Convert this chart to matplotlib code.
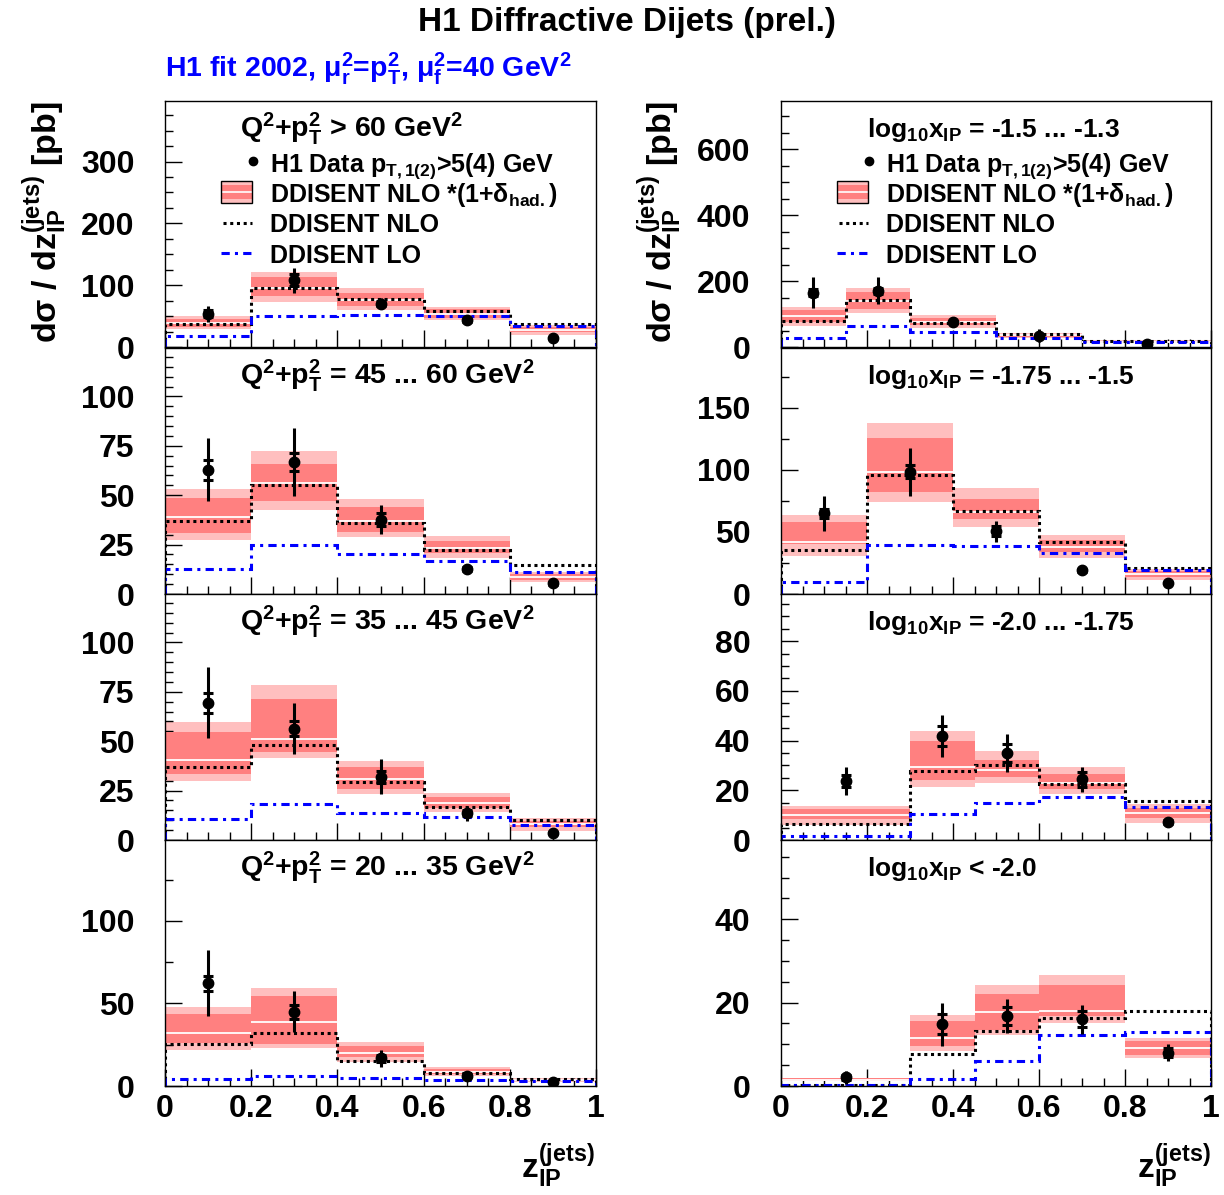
import numpy as np
import matplotlib
matplotlib.use("Agg")
import matplotlib.pyplot as plt
from matplotlib.patches import Rectangle
from matplotlib.ticker import MultipleLocator, FuncFormatter

plt.rcParams['font.family'] = ['Liberation Sans', 'DejaVu Sans']
plt.rcParams['font.weight'] = 'bold'
plt.rcParams['mathtext.fontset'] = 'custom'
plt.rcParams['mathtext.rm'] = 'Liberation Sans:bold'
plt.rcParams['mathtext.it'] = 'Liberation Sans:bold'
plt.rcParams['mathtext.bf'] = 'Liberation Sans:bold'
plt.rcParams['mathtext.sf'] = 'Liberation Sans:bold'

# ---------------- data ----------------
edges_std = [0.0, 0.2, 0.4, 0.6, 0.8, 1.0]
edges_r1 = [0.0, 0.15, 0.3, 0.5, 0.7, 1.0]
edges_r34 = [0.0, 0.3, 0.45, 0.6, 0.8, 1.0]

# Left column: Q^2+pT^2 bins
L1_data = [54, 108, 70, 43, 14]
L1_stat = [6, 10, 4, 2, 1]
L1_tot = [13, 20, 9, 3, 2]
L1_cen = [39, 95, 76, 53, 27]
L1_in_lo = [33, 83, 66, 47, 24]
L1_in_hi = [45, 113, 88, 61, 32]
L1_out_lo = [29, 73, 60, 43, 20]
L1_out_hi = [50, 122, 95, 65, 35]
L1_nlo = [37, 96, 77, 59, 37]
L1_lo = [17, 50, 52, 50, 34]

L2_data = [62.9, 66.8, 37.6, 12.7, 5.4]
L2_stat = [5, 4.8, 3.4, 1.2, 0.6]
L2_tot = [16, 17, 7.3, 2, 1]
L2_cen = [39, 56, 37, 23.5, 8.5]
L2_in_lo = [31, 47, 31.3, 20.6, 7.1]
L2_in_hi = [48.4, 65.8, 44, 27, 10]
L2_out_lo = [27.4, 42.3, 28.6, 18.1, 6.2]
L2_out_hi = [53.1, 72.2, 48, 29.4, 11.3]
L2_nlo = [36.7, 55, 35.9, 22.3, 14.7]
L2_lo = [12.5, 24.9, 20.1, 16.9, 11.3]

L3_data = [69.4, 56.3, 32.1, 13.5, 3.7]
L3_stat = [4.9, 3.8, 3, 1.5, 0.5]
L3_tot = [18, 12.9, 8.7, 3.7, 1]
L3_cen = [40.3, 51, 31, 18.5, 8]
L3_in_lo = [33.5, 44.3, 25.7, 16.1, 6.4]
L3_in_hi = [54.5, 71.6, 36.7, 22, 9.6]
L3_out_lo = [30.1, 41.5, 23.2, 14.4, 4.6]
L3_out_hi = [59.7, 78.5, 40.1, 23.7, 11]
L3_nlo = [36.7, 47.9, 29.6, 16.6, 10.2]
L3_lo = [10.7, 18.3, 13.5, 11.8, 7.6]

L4_data = [62.2, 45, 16.8, 6.3, 2.6]
L4_stat = [4.5, 4.2, 2, 0.8, 0.4]
L4_tot = [20, 12.5, 5, 1.5, 0.8]
L4_cen = [31.9, 39, 20, 8.5, 3.5]
L4_in_lo = [25.9, 25.5, 17.8, 7.1, 2.9]
L4_in_hi = [43.6, 54.5, 24.4, 10.3, 4.2]
L4_out_lo = [21.8, 22.8, 14.7, 6.1, 2.6]
L4_out_hi = [48, 59.6, 26.9, 11.7, 4.6]
L4_nlo = [25.5, 32.3, 15.4, 8.1, 4.0]
L4_lo = [4.0, 6.3, 4.6, 3.6, 3.2]

# Right column: log10 x_IP bins
R1_data = [165, 170, 76, 34, 9]
R1_stat = [10, 10, 4, 3, 1]
R1_tot = [48, 41, 8, 20, 4]
R1_cen = [93, 140, 77, 35, 16]
R1_in_lo = [76, 114.5, 66, 30, 12]
R1_in_hi = [112, 168, 89, 39, 19]
R1_out_lo = [64, 104.5, 59, 27, 11]
R1_out_hi = [122.7, 180, 96, 42, 21]
R1_nlo = [79, 141.7, 74, 38, 17]
R1_lo = [27, 64, 44, 26, 14]

R2_data = [64.8, 98.4, 50.6, 19.1, 9.2]
R2_stat = [3.8, 5.4, 4, 1.2, 0.6]
R2_tot = [13.7, 19.3, 8.4, 2, 1]
R2_cen = [41.5, 98.4, 65.6, 38, 16]
R2_in_lo = [40.6, 81.8, 60, 33.9, 13.5]
R2_in_hi = [58, 125.3, 76.4, 43.3, 18.5]
R2_out_lo = [30.6, 74.2, 54, 29.3, 11.6]
R2_out_hi = [63.5, 138, 85, 47.3, 20.5]
R2_nlo = [35.2, 95.7, 67, 41.9, 21.3]
R2_lo = [9.7, 39.3, 38.7, 33.4, 19.1]

R3_data = [23.6, 41.9, 35, 24.4, 7.2]
R3_stat = [2.4, 3.9, 3.6, 2.9, 0.8]
R3_tot = [5.6, 8.4, 7.8, 5, 1.5]
R3_cen = [10, 29.4, 28, 23, 11]
R3_in_lo = [8.3, 24, 25.4, 20.7, 9]
R3_in_hi = [12.3, 39.8, 32.1, 26.5, 13]
R3_out_lo = [6.2, 21.3, 22.9, 18.7, 6.8]
R3_out_hi = [13.5, 43.8, 35.9, 29.2, 14.6]
R3_nlo = [6.6, 27.7, 30.1, 22.7, 15.7]
R3_lo = [1.6, 10.6, 15, 17.3, 13.3]

R4_data = [2.1, 14.8, 16.8, 16, 8]
R4_stat = [0.6, 2.4, 2.2, 1.9, 1.0]
R4_tot = [1.6, 5.1, 4.1, 3.5, 2]
R4_cen = [1.5, 11.5, 17.8, 18.1, 9.1]
R4_in_lo = [1.2, 9.5, 13.5, 16.7, 7.5]
R4_in_hi = [1.8, 15.5, 22.1, 24.2, 10.8]
R4_out_lo = [1.1, 8.3, 12.3, 15.1, 6.7]
R4_out_hi = [1.9, 17, 24.2, 26.6, 11.6]
R4_nlo = [0.3, 7.7, 13.2, 16.3, 18]
R4_lo = [0.3, 1.7, 6.1, 12.3, 12.9]

left_titles = [r'Q$^{2}$+p$_{T}^{2}$ > 60 GeV$^{2}$',
               r'Q$^{2}$+p$_{T}^{2}$ = 45 ... 60 GeV$^{2}$',
               r'Q$^{2}$+p$_{T}^{2}$ = 35 ... 45 GeV$^{2}$',
               r'Q$^{2}$+p$_{T}^{2}$ = 20 ... 35 GeV$^{2}$']
right_titles = [r'log$_{10}$x$_{IP}$ = -1.5 ... -1.3',
                r'log$_{10}$x$_{IP}$ = -1.75 ... -1.5',
                r'log$_{10}$x$_{IP}$ = -2.0 ... -1.75',
                r'log$_{10}$x$_{IP}$ < -2.0']

legend_labels = [r'H1 Data p$_{T,1(2)}$>5(4) GeV',
                 r'DDISENT NLO *(1+δ$_{had.}$)',
                 'DDISENT NLO',
                 'DDISENT LO']

# ---------------- style ----------------
LIGHT = '#ffbfbf'
DARK = '#ff8080'
BLUE = '#0000ff'
NLO_LS = (0, (1, 1.2))
LO_LS = (0, (2.7, 1.7, 1.0, 1.7))

panels = [
    dict(col=0, row=0, edges=edges_std, data=L1_data, stat=L1_stat, tot=L1_tot, cen=L1_cen,
         in_lo=L1_in_lo, in_hi=L1_in_hi, out_lo=L1_out_lo, out_hi=L1_out_hi, nlo=L1_nlo, lo=L1_lo,
         ymax=398, major=100, minor=25, title=left_titles[0]),
    dict(col=0, row=1, edges=edges_std, data=L2_data, stat=L2_stat, tot=L2_tot, cen=L2_cen,
         in_lo=L2_in_lo, in_hi=L2_in_hi, out_lo=L2_out_lo, out_hi=L2_out_hi, nlo=L2_nlo, lo=L2_lo,
         ymax=124.5, major=25, minor=5, title=left_titles[1]),
    dict(col=0, row=2, edges=edges_std, data=L3_data, stat=L3_stat, tot=L3_tot, cen=L3_cen,
         in_lo=L3_in_lo, in_hi=L3_in_hi, out_lo=L3_out_lo, out_hi=L3_out_hi, nlo=L3_nlo, lo=L3_lo,
         ymax=124.5, major=25, minor=5, title=left_titles[2]),
    dict(col=0, row=3, edges=edges_std, data=L4_data, stat=L4_stat, tot=L4_tot, cen=L4_cen,
         in_lo=L4_in_lo, in_hi=L4_in_hi, out_lo=L4_out_lo, out_hi=L4_out_hi, nlo=L4_nlo, lo=L4_lo,
         ymax=149, major=50, minor=25, title=left_titles[3]),
    dict(col=1, row=0, edges=edges_r1, data=R1_data, stat=R1_stat, tot=R1_tot, cen=R1_cen,
         in_lo=R1_in_lo, in_hi=R1_in_hi, out_lo=R1_out_lo, out_hi=R1_out_hi, nlo=R1_nlo, lo=R1_lo,
         ymax=746, major=200, minor=50, title=right_titles[0]),
    dict(col=1, row=1, edges=edges_std, data=R2_data, stat=R2_stat, tot=R2_tot, cen=R2_cen,
         in_lo=R2_in_lo, in_hi=R2_in_hi, out_lo=R2_out_lo, out_hi=R2_out_hi, nlo=R2_nlo, lo=R2_lo,
         ymax=198, major=50, minor=25, title=right_titles[1]),
    dict(col=1, row=2, edges=edges_r34, data=R3_data, stat=R3_stat, tot=R3_tot, cen=R3_cen,
         in_lo=R3_in_lo, in_hi=R3_in_hi, out_lo=R3_out_lo, out_hi=R3_out_hi, nlo=R3_nlo, lo=R3_lo,
         ymax=99, major=20, minor=5, title=right_titles[2]),
    dict(col=1, row=3, edges=edges_r34, data=R4_data, stat=R4_stat, tot=R4_tot, cen=R4_cen,
         in_lo=R4_in_lo, in_hi=R4_in_hi, out_lo=R4_out_lo, out_hi=R4_out_hi, nlo=R4_nlo, lo=R4_lo,
         ymax=59, major=20, minor=5, title=right_titles[3]),
]

W, H = 1224, 1195
fig = plt.figure(figsize=(W / 100, H / 100), dpi=100)

col_x = [165, 781]
col_w = [431, 430]
row_top = [101, 348, 594, 840]
row_h = 246


def draw_legend(ax):
    icon_y = [0.756, 0.630, 0.504, 0.382]
    text_y = [0.711, 0.589, 0.467, 0.341]
    x0, x1 = 0.130, 0.202
    tr = ax.transAxes
    ax.plot([0.204], [icon_y[0]], 'o', color='black', ms=6, transform=tr, clip_on=False, zorder=6)
    bh = 0.089
    ax.add_patch(Rectangle((x0, icon_y[1] - bh / 2), x1 - x0, bh, transform=tr,
                           facecolor=LIGHT, edgecolor='none', zorder=5))
    ax.add_patch(Rectangle((x0, icon_y[1] - bh * 0.3), x1 - x0, bh * 0.6, transform=tr,
                           facecolor=DARK, edgecolor='none', zorder=5))
    ax.plot([x0, x1], [icon_y[1], icon_y[1]], color='white', lw=1.2, transform=tr, zorder=5)
    ax.add_patch(Rectangle((x0, icon_y[1] - bh / 2), x1 - x0, bh, transform=tr,
                           facecolor='none', edgecolor='black', lw=1.0, zorder=6))
    ax.plot([x0 + 0.005, x1], [icon_y[2]] * 2, color='black', lw=2.2, ls=NLO_LS, transform=tr, zorder=5)
    ax.plot([x0, x1], [icon_y[3]] * 2, color=BLUE, lw=2.2, ls=LO_LS, transform=tr, zorder=5)
    for ty, lab in zip(text_y, legend_labels):
        ax.text(0.244, ty, lab, transform=tr, fontsize=18, fontweight='bold', va='baseline', ha='left', zorder=6)


for p in panels:
    c, r = p['col'], p['row']
    left = col_x[c] / W
    bottom = 1 - (row_top[r] + row_h) / H
    ax = fig.add_axes([left, bottom, col_w[c] / W, row_h / H])
    e = np.array(p['edges'])
    widths = np.diff(e)
    centers = 0.5 * (e[:-1] + e[1:])
    out_lo, out_hi = np.array(p['out_lo']), np.array(p['out_hi'])
    in_lo, in_hi = np.array(p['in_lo']), np.array(p['in_hi'])
    ax.bar(e[:-1], out_hi - out_lo, bottom=out_lo, width=widths, align='edge',
           color=LIGHT, edgecolor='none', zorder=1)
    ax.bar(e[:-1], in_hi - in_lo, bottom=in_lo, width=widths, align='edge',
           color=DARK, edgecolor='none', zorder=2)
    ax.hlines(p['cen'], e[:-1], e[1:], colors='white', lw=1.3, zorder=2.5)
    ax.stairs(p['nlo'], e, baseline=0, color='black', lw=2.2, ls=NLO_LS, zorder=3)
    ax.stairs(p['lo'], e, baseline=0, color=BLUE, lw=2.2, ls=LO_LS, zorder=3)
    ax.errorbar(centers, p['data'], yerr=p['tot'], fmt='o', color='black', ms=7.5,
                elinewidth=2.2, capsize=0, zorder=4)
    ax.errorbar(centers, p['data'], yerr=p['stat'], fmt='none', ecolor='black',
                elinewidth=2.2, capsize=3.5, capthick=2.2, zorder=4)

    ax.set_xlim(0, 1)
    ax.set_ylim(0, p['ymax'])
    ax.xaxis.set_major_locator(MultipleLocator(0.2))
    ax.xaxis.set_minor_locator(MultipleLocator(0.05))
    ax.yaxis.set_major_locator(MultipleLocator(p['major']))
    ax.yaxis.set_minor_locator(MultipleLocator(p['minor']))
    ax.tick_params(which='both', direction='in', top=False, right=False, width=1.0)
    ax.tick_params(which='major', length=12.5)
    ax.tick_params(which='minor', length=6)
    ax.tick_params(axis='y', which='major', labelsize=23, pad=22)
    ax.tick_params(axis='x', which='major', labelsize=23, pad=6)
    ax.yaxis.set_major_formatter(FuncFormatter(lambda v, pos: '%g' % v))
    if r == 3:
        ax.xaxis.set_major_formatter(FuncFormatter(lambda v, pos: '%g' % v))
    else:
        ax.set_xticklabels([])
    for lab in ax.get_xticklabels() + ax.get_yticklabels():
        lab.set_fontweight('bold')
    for s in ax.spines.values():
        s.set_linewidth(1.0)
        s.set_zorder(10)
    if c == 0:
        ax.text(0.174, 0.855, p['title'], transform=ax.transAxes, fontsize=20.5, fontweight='bold',
                ha='left', va='baseline', zorder=6)
    else:
        ax.text(0.2, 0.855, p['title'], transform=ax.transAxes, fontsize=19, fontweight='bold',
                ha='left', va='baseline', zorder=6)
    if r == 0:
        draw_legend(ax)

# titles
fig.text(0.512, 1 - 22 / H, 'H1 Diffractive Dijets (prel.)', fontsize=24, fontweight='bold',
         ha='center', va='center')
fig.text(165 / W, 1 - 77 / H, r'H1 fit 2002, μ$_{r}^{2}$=p$_{T}^{2}$, μ$_{f}^{2}$=40 GeV$^{2}$',
         fontsize=20.5, fontweight='bold', color=BLUE, ha='left', va='baseline')

ylab = r'dσ / dz$_{IP}^{(jets)}$ [pb]'
fig.text(45 / W, 1 - 101 / H, ylab, rotation=90, fontsize=24.5, fontweight='bold', ha='center', va='top')
fig.text(660 / W, 1 - 101 / H, ylab, rotation=90, fontsize=24.5, fontweight='bold', ha='center', va='top')

xlab = r'z$_{IP}^{(jets)}$'
fig.text(595 / W, 1 - 1178 / H, xlab, fontsize=24, fontweight='bold', ha='right', va='baseline')
fig.text(1211 / W, 1 - 1178 / H, xlab, fontsize=24, fontweight='bold', ha='right', va='baseline')

fig.savefig('out.png', dpi=100)
